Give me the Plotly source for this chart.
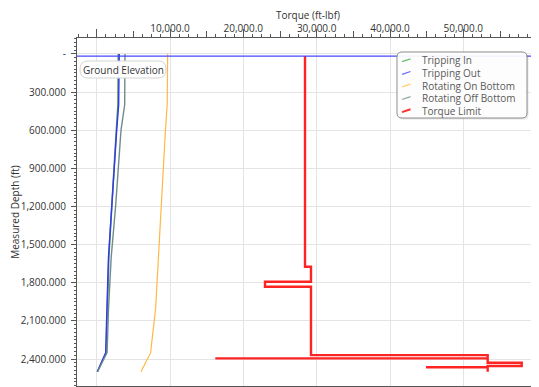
import plotly.graph_objects as go

# ---------------- data ----------------
depth_ft = [0, 400, 600, 800, 1200, 1600, 2000, 2350, 2500]
tripping_in = [2950, 2900, 2680, 2440, 2060, 1660, 1450, 1290, 100]
tripping_out = [3080, 3000, 2730, 2500, 2070, 1610, 1400, 1230, 80]
rotating_on_bottom = [9680, 9620, 9380, 9180, 8740, 8400, 8040, 7360, 6040]
rotating_off_bottom = [3860, 3820, 3320, 3100, 2580, 1980, 1620, 1420, 120]

torque_limit_depth = [17, 1674, 1674, 1792, 1792, 1831, 1831, 2369, 2369, 2395,
                      2395, 2395, 2429, 2429, 2455, 2455, 2465, 2465, 2465, 2500]
torque_limit = [28410, 28410, 29225, 29225, 22955, 22955, 29225, 29225, 53320, 53320,
                16180, 53320, 53320, 57960, 57960, 53320, 53320, 44910, 53320, 53320]

ground_elevation_ft = 17

x_tick_vals = [0, 10000, 20000, 30000, 40000, 50000, 60000]
x_tick_text = ["", "10,000.0", "20,000.0", "30,000.0", "40,000.0", "50,000.0", ""]
y_tick_vals = [0, 300, 600, 900, 1200, 1500, 1800, 2100, 2400]
y_tick_text = ["-", "300.000", "600.000", "900.000", "1,200.000", "1,500.000",
               "1,800.000", "2,100.000", "2,400.000"]

series_names = ["Tripping In", "Tripping Out", "Rotating On Bottom",
                "Rotating Off Bottom", "Torque Limit"]
series_colors = ["#4fa24f", "#3535f5", "#ffb845", "#6f8c8a", "#ff2424"]
legend_colors = ["#6cc06c", "#6a6aff", "#ffcc72", "#8aa89f", "#ff3030"]

FONT = "Open Sans"

# ---------------- geometry helpers ----------------
# the page body adds an 8 px offset; layout below is expressed in window pixels
OFF = 8
W, H = 539 - OFF, 387 - OFF
PL, PT, PW, PH = 77 - OFF, 38 - OFF, 462, 348


def px(x):
    return (x - OFF - PL) / PW


def py(y):
    return (PT + PH - (y - OFF)) / PH


def rounded_rect(x0, y0, x1, y1, r):
    pts = [
        ("M", [(x0 + r, y0)]), ("L", [(x1 - r, y0)]), ("Q", [(x1, y0), (x1, y0 + r)]),
        ("L", [(x1, y1 - r)]), ("Q", [(x1, y1), (x1 - r, y1)]),
        ("L", [(x0 + r, y1)]), ("Q", [(x0, y1), (x0, y1 - r)]),
        ("L", [(x0, y0 + r)]), ("Q", [(x0, y0), (x0 + r, y0)]),
    ]
    s = ""
    for cmd, coords in pts:
        s += cmd + " " + " ".join(f"{px(a):.5f},{py(b):.5f}" for a, b in coords) + " "
    return s + "Z"


# ---------------- figure ----------------
fig = go.Figure()

curves = [tripping_in, tripping_out, rotating_on_bottom, rotating_off_bottom]
widths = [1.6, 1.4, 1.2, 1.4]
for name, vals, col, w in zip(series_names[:4], curves, series_colors[:4], widths):
    fig.add_trace(go.Scatter(x=vals, y=depth_ft, mode="lines", name=name,
                             line=dict(color=col, width=w), showlegend=False))

fig.add_trace(go.Scatter(x=torque_limit, y=torque_limit_depth, mode="lines",
                         name=series_names[4], line=dict(color=series_colors[4], width=2.4),
                         showlegend=False))

# invisible trace on the overlay axis that carries the long tick marks
fig.add_trace(go.Scatter(x=[x_tick_vals[0]], y=[y_tick_vals[0]], xaxis="x2", mode="markers",
                         marker=dict(opacity=0), showlegend=False, hoverinfo="skip"))

shapes = []
shapes.append(dict(type="line", xref="paper", yref="y", x0=0, x1=1,
                   y0=ground_elevation_ft, y1=ground_elevation_ft,
                   line=dict(color="#4646ff", width=1.2), layer="above"))
shapes.append(dict(type="path", xref="paper", yref="paper",
                   path=rounded_rect(80, 61, 166, 78, 8),
                   fillcolor="rgba(255,255,255,0.95)", line=dict(color="#d4d4d4", width=1),
                   layer="above"))
shapes.append(dict(type="path", xref="paper", yref="paper",
                   path=rounded_rect(398.5, 53.5, 528.5, 119.5, 5),
                   fillcolor="rgba(0,0,0,0.10)", line=dict(width=0), layer="above"))
shapes.append(dict(type="path", xref="paper", yref="paper",
                   path=rounded_rect(397, 52, 527, 118, 5),
                   fillcolor="rgba(255,255,255,0.93)", line=dict(color="#8c8c8c", width=1),
                   layer="above"))

annotations = [dict(xref="paper", yref="paper", x=px(123.5), y=py(69.5), text="Ground Elevation",
                    showarrow=False, xanchor="center", yanchor="middle",
                    font=dict(family=FONT, size=10, color="#333333"))]

for i, (name, col) in enumerate(zip(series_names, legend_colors)):
    yc = 60.3 + 12.6 * i
    shapes.append(dict(type="line", xref="paper", yref="paper",
                       x0=px(402), y0=py(yc + 1.4), x1=px(410.5), y1=py(yc - 1.4),
                       line=dict(color=col, width=2 if i == 4 else 1.3), layer="above"))
    annotations.append(dict(xref="paper", yref="paper", x=px(420), y=py(yc), text=name,
                            showarrow=False, xanchor="left", yanchor="middle",
                            font=dict(family=FONT, size=10, color="#5a5a5a")))

fig.update_layout(
    width=W, height=H,
    margin=dict(l=PL, r=W - PL - PW, t=PT, b=H - PT - PH, pad=0),
    paper_bgcolor="white", plot_bgcolor="white",
    font=dict(family=FONT, size=10, color="#333333"),
    showlegend=False,
    shapes=shapes, annotations=annotations,
    xaxis=dict(
        side="top", range=[-2682, 60318], tickmode="array",
        tickvals=x_tick_vals, ticktext=x_tick_text,
        ticks="outside", ticklen=3, tickcolor="#555555", tickwidth=1,
        showline=True, linecolor="#555555", linewidth=1, mirror=True,
        showgrid=True, gridcolor="#e4e4e4", gridwidth=1, zeroline=False,
        minor=dict(dtick=1250, tick0=0, ticks="outside", ticklen=3, tickcolor="#555555",
                   showgrid=False),
        tickfont=dict(family=FONT, size=10, color="#333333"),
        ticklabelstandoff=-2,
        title=dict(text="Torque (ft-lbf)", standoff=3,
                   font=dict(family=FONT, size=10, color="#333333")),
        automargin=False,
    ),
    xaxis2=dict(
        overlaying="x", matches="x", side="top", tickmode="array",
        tickvals=x_tick_vals, ticktext=[""] * len(x_tick_vals),
        ticks="outside", ticklen=8, tickcolor="#555555",
        minor=dict(dtick=5000, tick0=0, ticks="outside", ticklen=6, tickcolor="#555555",
                   showgrid=False),
        showline=False, showgrid=False, zeroline=False, automargin=False,
    ),
    yaxis=dict(
        range=[2612, -125], tickmode="array",
        tickvals=y_tick_vals, ticktext=y_tick_text,
        ticks="outside", ticklen=5, tickcolor="#555555",
        showline=True, linecolor="#555555", linewidth=1,
        showgrid=True, gridcolor="#e4e4e4", gridwidth=1, zeroline=False,
        minor=dict(dtick=30, tick0=0, ticks="outside", ticklen=2.5, tickcolor="#555555",
                   showgrid=False),
        tickfont=dict(family=FONT, size=10, color="#333333"),
        ticklabelstandoff=3,
        title=dict(text="Measured Depth (ft)", standoff=4,
                   font=dict(family=FONT, size=10, color="#333333")),
        automargin=False,
    ),
)

fig.write_html("out.html")
